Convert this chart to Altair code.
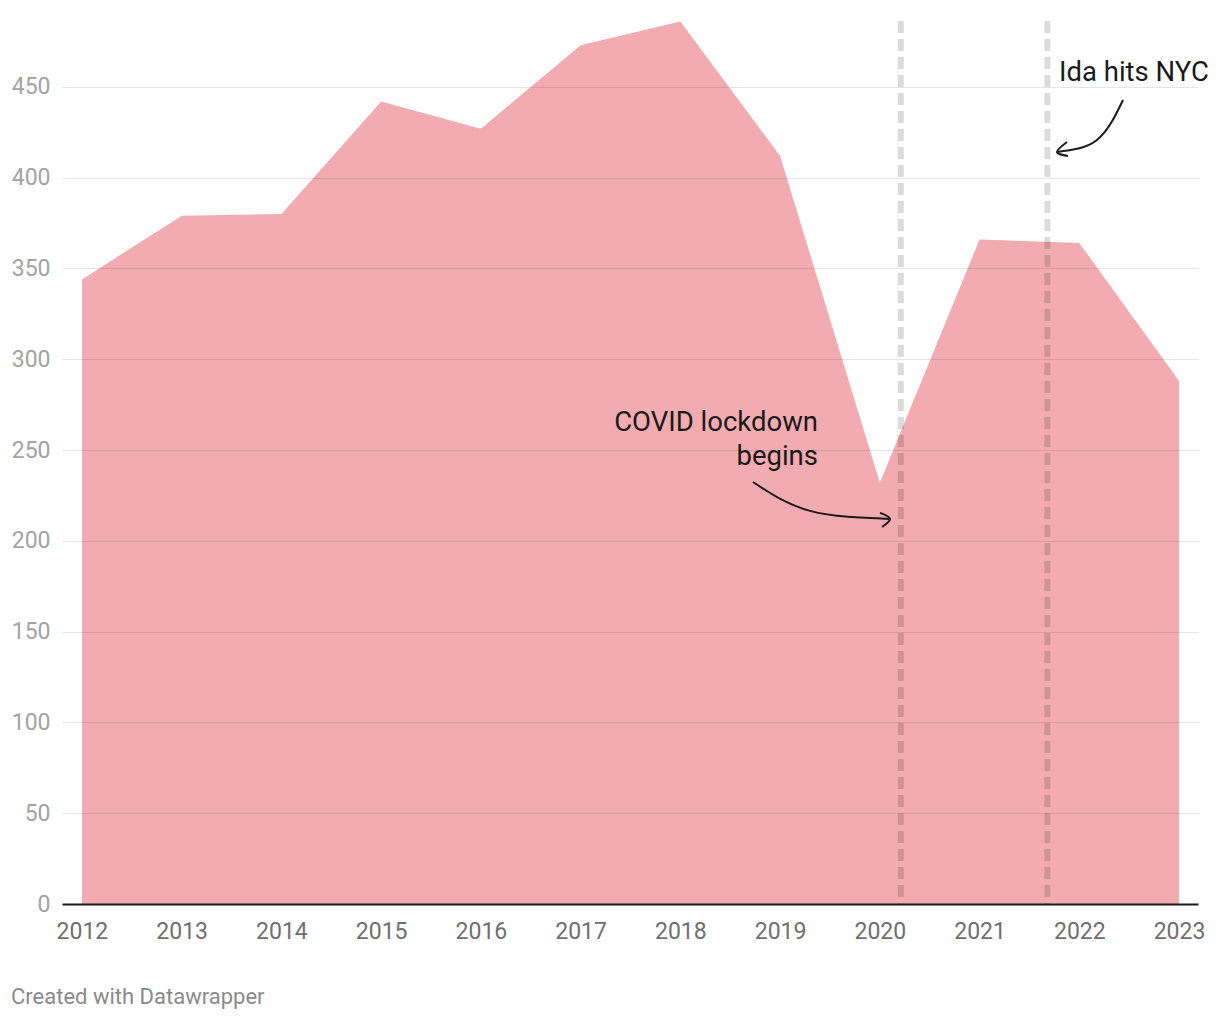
import altair as alt
import pandas as pd

years = [2012, 2013, 2014, 2015, 2016, 2017, 2018, 2019, 2020, 2021, 2022, 2023]
values = [344, 379, 380, 442, 427, 473, 486, 412, 232, 366, 364, 288]

event_x = [2020.21, 2021.68]

label_text = ["Ida hits NYC", "COVID lockdown", "begins"]
label_x = [2021.796, 2019.38, 2019.38]
label_y = [457.6, 264.9, 246.2]
label_align = ["left", "right", "right"]

# annotation arrows (data units)
arrow_id = ["c"] * 3 + ["ch"] * 3 + ["i"] * 3 + ["ih"] * 3
arrow_x = [2018.728, 2019.300, 2020.102,
           2020.002, 2020.102, 2020.022,
           2022.438, 2022.177, 2021.776,
           2021.877, 2021.776, 2021.887]
arrow_y = [232.4, 216.5, 212.1,
           215.4, 212.1, 207.6,
           442.8, 420.8, 414.2,
           419.7, 414.2, 412.0]

df = pd.DataFrame({"year": years, "value": values})
ev = pd.DataFrame({"x": event_x})
lab = pd.DataFrame({"t": label_text, "x": label_x, "y": label_y, "a": label_align})
arr = pd.DataFrame({"id": arrow_id, "x": arrow_x, "y": arrow_y,
                    "o": list(range(len(arrow_x)))})

W, H = 1136, 883
xs = alt.Scale(domain=[2011.8, 2023.19], nice=False, zero=False)
ys = alt.Scale(domain=[0, 486.3], nice=False)

area = alt.Chart(df).mark_area(color="#f2abb0", opacity=1).encode(
    x=alt.X("year:Q", scale=xs, axis=alt.Axis(
        values=years, format="d", title=None, grid=False, ticks=False,
        domain=True, domainColor="#1a1a1a", domainWidth=2, zindex=1,
        labelFont="Roboto", labelFontSize=23, labelColor="#6f6f6f",
        labelPadding=16, labelFlush=False)),
    y=alt.Y("value:Q", scale=ys, axis=alt.Axis(
        values=[0, 50, 100, 150, 200, 250, 300, 350, 400, 450], title=None,
        grid=True, gridColor="#000000", gridOpacity=0.1, gridWidth=1,
        ticks=False, domain=False, zindex=1,
        labelFont="Roboto", labelFontSize=23, labelColor="#a3a3a3",
        labelPadding=12)),
)

rules = alt.Chart(ev).mark_rule(
    color="#000000", opacity=0.14, strokeWidth=6, strokeDash=[12, 6]
).encode(x=alt.X("x:Q", scale=xs))

arrows = alt.Chart(arr).mark_line(
    color="#1a1a1a", strokeWidth=2, interpolate="natural"
).encode(
    x=alt.X("x:Q", scale=xs), y=alt.Y("y:Q", scale=ys),
    detail="id:N", order="o:Q",
)

labels_left = alt.Chart(lab[lab["a"] == "left"]).mark_text(
    font="Roboto", fontSize=27.5, color="#1a1a1a", baseline="middle", align="left"
).encode(x=alt.X("x:Q", scale=xs), y=alt.Y("y:Q", scale=ys), text="t:N")

labels_right = alt.Chart(lab[lab["a"] == "right"]).mark_text(
    font="Roboto", fontSize=27.5, color="#1a1a1a", baseline="middle", align="right"
).encode(x=alt.X("x:Q", scale=xs), y=alt.Y("y:Q", scale=ys), text="t:N")

credit = alt.Chart(pd.DataFrame({"t": ["Created with Datawrapper"]})).mark_text(
    font="Roboto", fontSize=22, color="#8a8a8a", align="left", baseline="middle"
).encode(x=alt.value(-51), y=alt.value(H + 93), text="t:N")

chart = alt.layer(area, rules, arrows, labels_left, labels_right, credit).properties(
    width=W, height=H,
    autosize=alt.AutoSizeParams(type="none"),
    padding={"left": 54, "top": 13, "right": 14, "bottom": 110},
).configure_view(stroke=None)

chart.save("out.html", embed_options={"renderer": "svg", "actions": False})
